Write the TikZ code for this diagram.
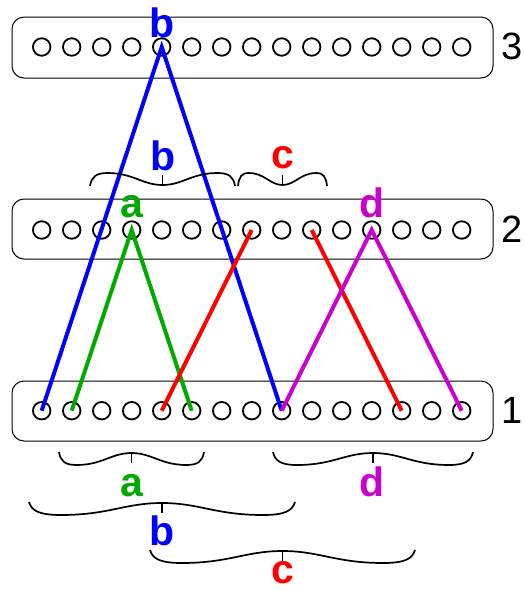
\documentclass[tikz,border=0pt]{standalone}
\usepackage{fontspec}
\setmainfont{Liberation Sans}
\definecolor{colB}{RGB}{0,0,255}
\definecolor{colG}{RGB}{0,170,0}
\definecolor{colR}{RGB}{255,0,0}
\definecolor{colM}{RGB}{204,0,204}
\tikzset{
  hole/.style={circle,draw=black,line width=1.8pt,minimum size=17.5pt,inner sep=0pt},
  rowbox/.style={draw=black,line width=1pt,rounded corners=12pt},
  link/.style={line width=4pt},
  lab/.style={font=\fontsize{41}{41}\selectfont\bfseries,anchor=base,inner sep=0pt},
  num/.style={font=\fontsize{38}{38}\selectfont,anchor=base,inner sep=0pt},
  brc/.style={line width=1.7pt},
}
% #1 = left x, #2 = right x, #3 = y of the ends, #4 = +1 (tip down) or -1 (tip up)
\newcommand\curlybrace[4]{%
  \draw[brc]
    (#1,#3)
      .. controls ({#1+0.01*(#2-#1)},{#3+#4*9}) and ({#1+0.04*(#2-#1)},{#3+#4*13}) ..
    ({#1+0.12*(#2-#1)},{#3+#4*13})
      .. controls ({#1+0.30*(#2-#1)},{#3+#4*13}) and ({(#1+#2)/2-0.14*(#2-#1)},{#3+#4*1}) ..
    ({(#1+#2)/2},{#3+#4*1})
      .. controls ({(#1+#2)/2+0.14*(#2-#1)},{#3+#4*1}) and ({#2-0.30*(#2-#1)},{#3+#4*13}) ..
    ({#2-0.12*(#2-#1)},{#3+#4*13})
      .. controls ({#2-0.04*(#2-#1)},{#3+#4*13}) and ({#2-0.01*(#2-#1)},{#3+#4*9}) ..
    (#2,#3);
  \draw[brc] ({(#1+#2)/2},{#3+#4*1}) -- ({(#1+#2)/2},{#3+#4*11});
}
\begin{document}
\begin{tikzpicture}[x=1pt,y=-1pt]
\useasboundingbox (0,0) rectangle (525,590);
% boxes
\draw[rowbox] (12,17) rectangle (493,78);
\draw[rowbox] (12,199) rectangle (493,259);
\draw[rowbox] (12,381) rectangle (493,441);
% holes
\foreach \i in {1,...,15}{
  \node[hole] (r3c\i) at ({41.7+30*(\i-1)},47) {};
  \node[hole] (r2c\i) at ({41.7+30*(\i-1)},230) {};
  \node[hole] (r1c\i) at ({41.7+30*(\i-1)},410.7) {};
}
% row numbers
\node[num] (n3) at (512,59) {3};
\node[num] (n2) at (512,242) {2};
\node[num] (n1) at (512,423) {1};
% links
\draw[link,colB] (r1c1.center) -- (r3c5.center) -- (r1c9.center);
\draw[link,colG] (r1c2.center) -- (r2c4.center) -- (r1c6.center);
\draw[link,colR] (r1c5.center) -- (r2c8.center);
\draw[link,colR] (r2c10.center) -- (r1c13.center);
\draw[link,colM] (r1c9.center) -- (r2c12.center) -- (r1c15.center);
% link labels
\node[lab,text=colB] (lb3) at (162,37) {b};
\node[lab,text=colG] (la2) at (132,217) {a};
\node[lab,text=colM] (ld2) at (372,217) {d};
% braces above row 2
\curlybrace{90}{235}{186}{-1}
\curlybrace{238}{327}{186}{-1}
\node[lab,text=colB] (bb) at (163,170) {b};
\node[lab,text=colR] (bc) at (283,168) {c};
% braces below row 1
\curlybrace{59}{204}{452}{1}
\curlybrace{273}{473}{452}{1}
\curlybrace{29}{295}{502}{1}
\curlybrace{150}{415}{550}{1}
\node[lab,text=colG] (ua) at (132,496) {a};
\node[lab,text=colM] (ud) at (372,496) {d};
\node[lab,text=colB] (ub) at (162,545) {b};
\node[lab,text=colR] (uc) at (283,583) {c};
\end{tikzpicture}
\end{document}
